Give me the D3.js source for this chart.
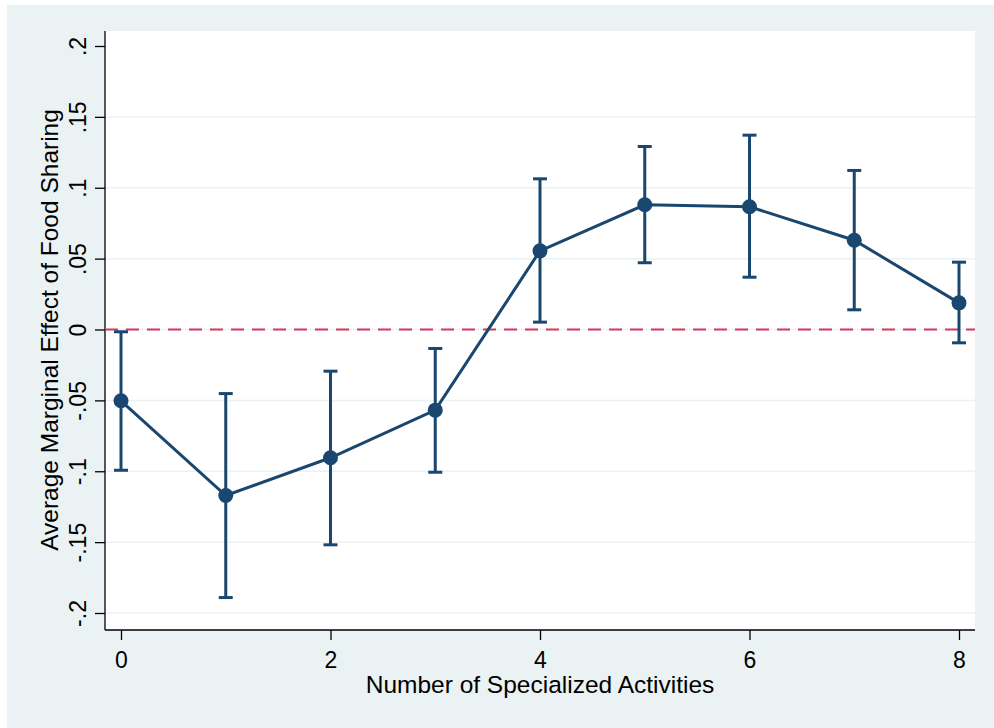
<!DOCTYPE html>
<html>
<head>
<meta charset="utf-8">
<script src="https://cdn.jsdelivr.net/npm/d3@7"></script>
<style>
  body { margin: 0; background: #fff; }
  svg text { font-family: "Liberation Sans", Arial, sans-serif; fill: #000; }
</style>
</head>
<body>
<div id="chart"></div>
<script>
var width = 994, height = 728;

// data
var activities = [0, 1, 2, 3, 4, 5, 6, 7, 8];
var effect  = [-0.0503, -0.1171, -0.0905, -0.0569, 0.0555, 0.0880, 0.0866, 0.0630, 0.0188];
var ciLow   = [-0.0993, -0.1891, -0.1519, -0.1007, 0.0052, 0.0471, 0.0369, 0.0139, -0.0094];
var ciHigh  = [-0.0016, -0.0452, -0.0294, -0.0134, 0.1063, 0.1291, 0.1371, 0.1122, 0.0475];
var xTicks = [0, 2, 4, 6, 8];
var yTicks = [-0.2, -0.15, -0.1, -0.05, 0, 0.05, 0.1, 0.15, 0.2];
var yTickLabels = ["-.2", "-.15", "-.1", "-.05", "0", ".05", ".1", ".15", ".2"];

var rows = activities.map(function(a, i) {
  return { x: a, y: effect[i], lo: ciLow[i], hi: ciHigh[i] };
});

var plot = { left: 105, right: 975, top: 31, bottom: 630 };
var navy = "#1a476f";

var svg = d3.select("#chart").append("svg")
  .attr("width", width)
  .attr("height", height);

// outer graph region
svg.append("rect")
  .attr("x", 7).attr("y", 5)
  .attr("width", width - 7).attr("height", height - 5)
  .attr("fill", "#eaf2f3");

// plot region
svg.append("rect")
  .attr("x", plot.left).attr("y", plot.top)
  .attr("width", plot.right - plot.left).attr("height", plot.bottom - plot.top)
  .attr("fill", "#ffffff");

var x = d3.scaleLinear().domain([0, 8]).range([121, 959]);
var y = d3.scaleLinear().domain([-0.2, 0.2]).range([613, 46]);

// gridlines
svg.append("g").selectAll("line")
  .data(yTicks.filter(function(t) { return t < 0.2; })).enter()
  .append("line")
  .attr("x1", plot.left).attr("x2", plot.right)
  .attr("y1", function(d) { return y(d); })
  .attr("y2", function(d) { return y(d); })
  .attr("stroke", "#eaf2f3")
  .attr("stroke-width", 1.5);

// y axis
var yAxis = svg.append("g")
  .attr("transform", "translate(" + plot.left + ",0)")
  .call(d3.axisLeft(y).tickValues(yTicks)
    .tickFormat(function(d, i) { return yTickLabels[i]; })
    .tickSize(10));
yAxis.select(".domain").attr("d", "M0," + plot.top + "V" + plot.bottom).attr("stroke", "#000").attr("stroke-width", 1.3);
yAxis.selectAll(".tick line").attr("stroke", "#000").attr("stroke-width", 1.3);
yAxis.selectAll(".tick text")
  .attr("font-size", 23)
  .attr("text-anchor", "middle")
  .attr("x", null).attr("dy", null)
  .attr("transform", "translate(-19,0) rotate(-90)");

// x axis
var xAxis = svg.append("g")
  .attr("transform", "translate(0," + plot.bottom + ")")
  .call(d3.axisBottom(x).tickValues(xTicks).tickSize(10).tickPadding(12));
xAxis.select(".domain").attr("d", "M" + plot.left + ",0H" + plot.right).attr("stroke", "#000").attr("stroke-width", 1.3);
xAxis.selectAll(".tick line").attr("stroke", "#000").attr("stroke-width", 1.3);
xAxis.selectAll(".tick text").attr("font-size", 23);

// axis titles
svg.append("text")
  .attr("x", 540).attr("y", 693)
  .attr("text-anchor", "middle")
  .attr("font-size", 24.5)
  .text("Number of Specialized Activities");

svg.append("text")
  .attr("transform", "translate(58,330) rotate(-90)")
  .attr("text-anchor", "middle")
  .attr("font-size", 24.5)
  .text("Average Marginal Effect of Food Sharing");

// reference line at zero
svg.append("line")
  .attr("x1", plot.left).attr("x2", plot.right)
  .attr("y1", y(0)).attr("y2", y(0))
  .attr("stroke", "#d6375c")
  .attr("stroke-width", 2)
  .attr("stroke-dasharray", "13,8");

// error bars
var bars = svg.append("g").attr("stroke", navy).attr("stroke-width", 3);
bars.selectAll(".whisker").data(rows).enter()
  .append("line")
  .attr("x1", function(d) { return x(d.x); })
  .attr("x2", function(d) { return x(d.x); })
  .attr("y1", function(d) { return y(d.lo); })
  .attr("y2", function(d) { return y(d.hi); });
bars.selectAll(".capHi").data(rows).enter()
  .append("line")
  .attr("x1", function(d) { return x(d.x) - 7; })
  .attr("x2", function(d) { return x(d.x) + 7; })
  .attr("y1", function(d) { return y(d.hi); })
  .attr("y2", function(d) { return y(d.hi); });
bars.selectAll(".capLo").data(rows).enter()
  .append("line")
  .attr("x1", function(d) { return x(d.x) - 7; })
  .attr("x2", function(d) { return x(d.x) + 7; })
  .attr("y1", function(d) { return y(d.lo); })
  .attr("y2", function(d) { return y(d.lo); });

// connecting line
var line = d3.line()
  .x(function(d) { return x(d.x); })
  .y(function(d) { return y(d.y); });

svg.append("path")
  .datum(rows)
  .attr("d", line)
  .attr("fill", "none")
  .attr("stroke", navy)
  .attr("stroke-width", 3);

// markers
svg.selectAll(".pt").data(rows).enter()
  .append("circle")
  .attr("cx", function(d) { return x(d.x); })
  .attr("cy", function(d) { return y(d.y); })
  .attr("r", 7.5)
  .attr("fill", navy);
</script>
</body>
</html>
